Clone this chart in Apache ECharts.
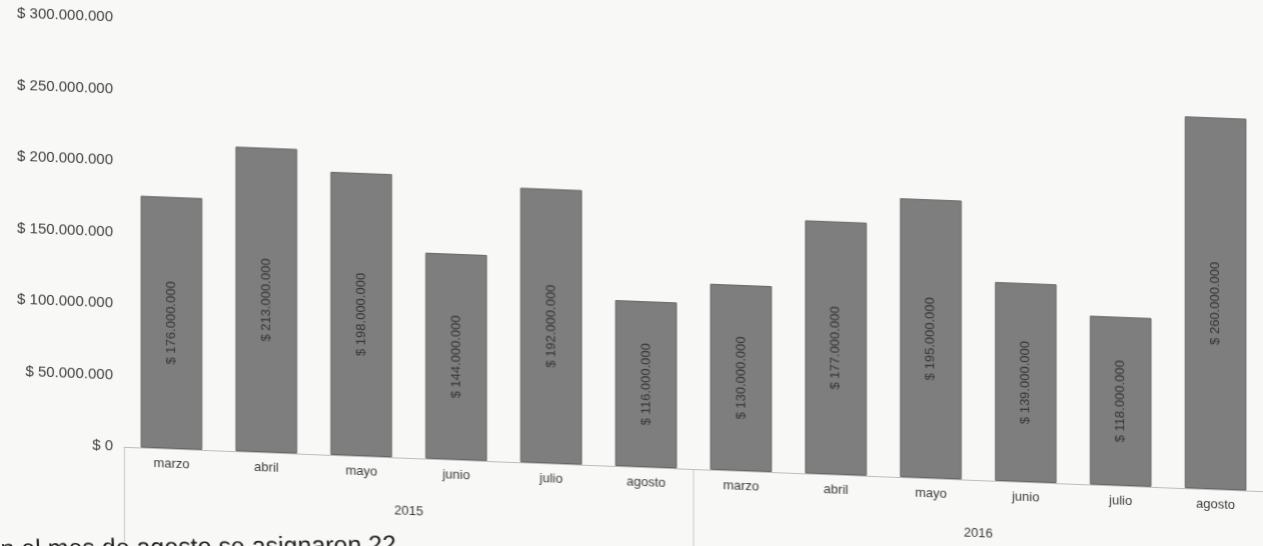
<!DOCTYPE html>
<html>
<head>
<meta charset="utf-8">
<script src="https://cdn.jsdelivr.net/npm/echarts@6/dist/echarts.min.js"></script>
<style>
  html, body { margin: 0; padding: 0; background: #f8f8f6; overflow: hidden; }
  #chart { width: 1263px; height: 546px; transform: skewY(2.23deg); transform-origin: 0 0; }
</style>
</head>
<body>
<div id="chart"></div>
<script>
var months = ['marzo', 'abril', 'mayo', 'junio', 'julio', 'agosto', 'marzo', 'abril', 'mayo', 'junio', 'julio', 'agosto'];
var years = ['2015', '2016'];
var values = [176000000, 213000000, 198000000, 144000000, 192000000, 116000000, 130000000, 177000000, 195000000, 139000000, 118000000, 260000000];
var yMin = 0, yMax = 300000000, yStep = 50000000;
var noteText = 'n el mes de agosto se asignaron 22';

function fmt(v) {
  return '$ ' + String(Math.round(v)).replace(/\B(?=(\d{3})+(?!\d))/g, '.');
}

var FONT = 'Liberation Sans, Arial, sans-serif';
var chart = echarts.init(document.getElementById('chart'), null, { renderer: 'canvas' });
chart.setOption({
  backgroundColor: '#f8f8f6',
  animation: false,
  grid: { left: 124, right: -12, top: 13, bottom: 104, containLabel: false },
  xAxis: [
    {
      type: 'category',
      data: months,
      position: 'bottom',
      axisLine: { show: true, lineStyle: { color: '#bdbdbd', width: 1 } },
      axisTick: { show: false },
      axisLabel: { interval: 0, margin: 9, fontSize: 13, color: '#3c3c3c', fontFamily: FONT }
    },
    {
      type: 'category',
      data: years,
      position: 'bottom',
      axisLine: { show: false },
      axisTick: { show: true, length: 95, interval: 0, lineStyle: { color: '#c8c8c8', width: 1 } },
      axisLabel: { interval: 0, margin: 47, fontSize: 13, color: '#3c3c3c', fontFamily: FONT }
    }
  ],
  yAxis: {
    type: 'value',
    min: yMin,
    max: yMax,
    interval: yStep,
    axisLine: { show: false },
    axisTick: { show: false },
    splitLine: { show: false },
    axisLabel: { margin: 11, fontSize: 15, color: '#404040', fontFamily: FONT, formatter: fmt }
  },
  series: [
    {
      type: 'bar',
      xAxisIndex: 0,
      data: values,
      barCategoryGap: '35%',
      itemStyle: { color: '#7e7e7e', borderColor: '#666666', borderWidth: 1 },
      label: {
        show: true,
        position: 'inside',
        rotate: 90,
        fontSize: 13,
        color: '#363636',
        fontFamily: FONT,
        formatter: function (p) { return fmt(p.value); }
      }
    }
  ],
  graphic: [
    {
      type: 'text',
      left: 0,
      top: 518,
      rotation: 0.05,
      style: { text: noteText, fontSize: 25, fill: '#1e1e1e', fontFamily: FONT }
    }
  ]
});
</script>
</body>
</html>
